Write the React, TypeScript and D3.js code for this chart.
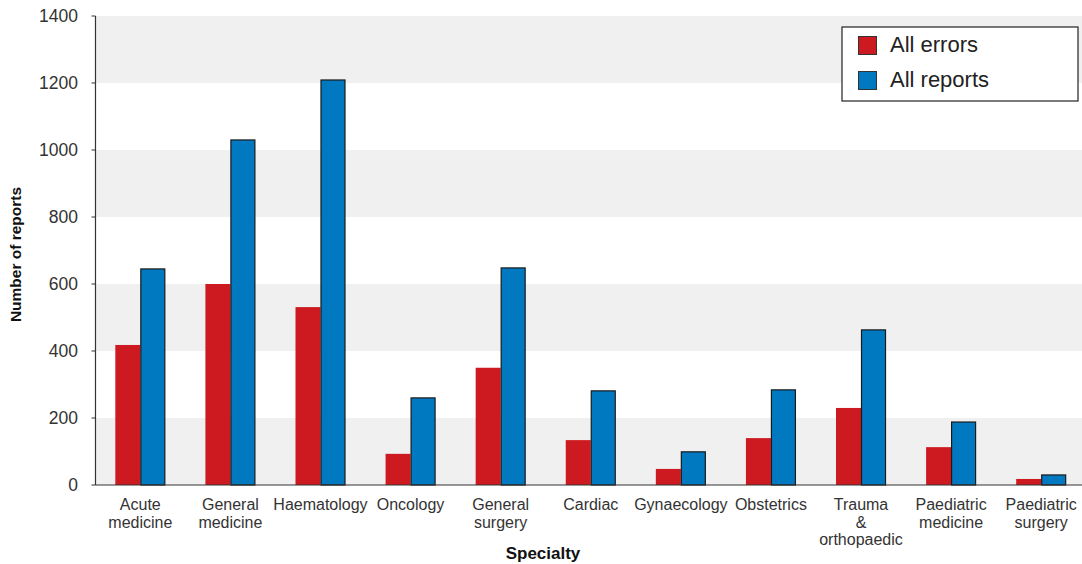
import React from "react";
import * as d3 from "d3";

const specialties: string[][] = [
  ["Acute", "medicine"],
  ["General", "medicine"],
  ["Haematology"],
  ["Oncology"],
  ["General", "surgery"],
  ["Cardiac"],
  ["Gynaecology"],
  ["Obstetrics"],
  ["Trauma", "&", "orthopaedic"],
  ["Paediatric", "medicine"],
  ["Paediatric", "surgery"],
];
const allErrors = [418, 600, 531, 93, 350, 134, 48, 140, 230, 113, 18];
const allReports = [645, 1030, 1209, 260, 648, 281, 99, 284, 463, 188, 30];
const yTicks = [0, 200, 400, 600, 800, 1000, 1200, 1400];
const seriesNames = ["All errors", "All reports"];

const RED = "#cd1a21";
const BLUE = "#0079c1";
const FONT = "'Liberation Sans', Arial, Helvetica, sans-serif";

export default function App() {
  const width = 1082;
  const height = 564;
  const left = 95.5;
  const right = 1082;
  const top = 16;
  const bottom = 485;

  // the band range runs slightly past the visible plot edge
  const x = d3
    .scaleBand<number>()
    .domain(d3.range(specialties.length))
    .range([left, 1086])
    .paddingInner(0.445)
    .paddingOuter(0.22);
  const sub = d3.scaleBand<number>().domain([0, 1]).range([0, x.bandwidth()]);
  const y = d3.scaleLinear().domain([0, 1400]).range([bottom, top]);

  const bands = yTicks.slice(0, -1).filter((t) => (t / 200) % 2 === 0);

  return (
    <svg
      width={width}
      height={height}
      style={{ position: "absolute", left: 0, top: 0, fontFamily: FONT }}
    >
      {bands.map((t) => (
        <rect
          key={t}
          x={left}
          y={y(t + 200)}
          width={right - left}
          height={y(t) - y(t + 200)}
          fill="#f0f0f0"
        />
      ))}

      {specialties.map((_, i) => {
        const x0 = x(i)!;
        return (
          <g key={i}>
            <rect
              x={x0 + sub(0)!}
              y={y(allErrors[i])}
              width={sub.bandwidth()}
              height={y(0) - y(allErrors[i])}
              fill={RED}
            />
            <rect
              x={x0 + sub(1)! + 0.5}
              y={y(allReports[i])}
              width={sub.bandwidth() - 1}
              height={y(0) - y(allReports[i])}
              fill={BLUE}
              stroke="#1a1a1a"
              strokeWidth={1.2}
            />
          </g>
        );
      })}

      {/* axes */}
      <line x1={left} x2={left} y1={top} y2={bottom} stroke="#333" strokeWidth={1.2} />
      <line x1={left} x2={right} y1={bottom} y2={bottom} stroke="#333" strokeWidth={1.2} />
      {yTicks.map((t) => (
        <g key={t}>
          <line x1={left - 4} x2={left} y1={y(t)} y2={y(t)} stroke="#333" strokeWidth={1} />
          <text
            x={78}
            y={y(t)}
            dy="0.35em"
            textAnchor="end"
            fontSize={17.5}
            fill="#333"
          >
            {t}
          </text>
        </g>
      ))}

      {specialties.map((lines, i) => {
        const cx = x(i)! + x.bandwidth() / 2;
        return (
          <text key={i} textAnchor="middle" fontSize={16} fill="#333">
            {lines.map((ln, j) => (
              <tspan key={j} x={cx} y={510 + j * 17.5}>
                {ln}
              </tspan>
            ))}
          </text>
        );
      })}

      <text
        transform={`translate(21, ${(top + bottom) / 2 + 4}) rotate(-90)`}
        textAnchor="middle"
        fontSize={15.5}
        fontWeight="bold"
        fill="#111"
      >
        Number of reports
      </text>
      <text
        x={543}
        y={559}
        textAnchor="middle"
        fontSize={17}
        fontWeight="bold"
        fill="#111"
      >
        Specialty
      </text>

      {/* legend */}
      <g>
        <rect x={842} y={27} width={236} height={74} fill="#fff" stroke="#222" strokeWidth={1.2} />
        {seriesNames.map((name, i) => (
          <g key={name} transform={`translate(858, ${36 + i * 35})`}>
            <rect
              x={0.5}
              y={0.5}
              width={18}
              height={18}
              fill={i === 0 ? RED : BLUE}
              stroke="#333"
              strokeWidth={1}
            />
            <text x={32} y={8} dy="0.35em" fontSize={22} fill="#222">
              {name}
            </text>
          </g>
        ))}
      </g>
    </svg>
  );
}
